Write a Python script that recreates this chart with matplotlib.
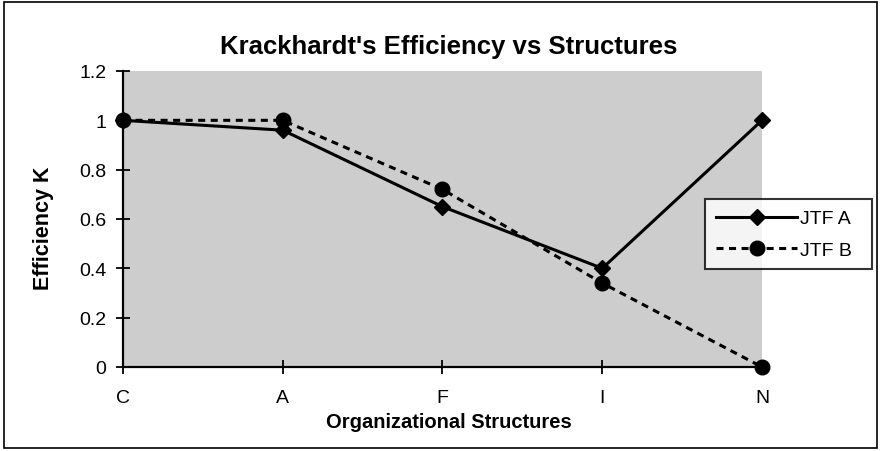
import matplotlib
matplotlib.use("Agg")
import matplotlib.pyplot as plt
from matplotlib.patches import Rectangle

categories = ["C", "A", "F", "I", "N"]
jtf_a = [1.0, 0.96, 0.65, 0.40, 1.0]
jtf_b = [1.0, 1.0, 0.72, 0.34, 0.0]
yticks = [0, 0.2, 0.4, 0.6, 0.8, 1.0, 1.2]
ytick_labels = ["0", "0.2", "0.4", "0.6", "0.8", "1", "1.2"]

plt.rcParams['font.family'] = ['Liberation Sans', 'DejaVu Sans']

W, H = 881, 452
fig = plt.figure(figsize=(W / 100, H / 100), dpi=100)
fig.patches.append(Rectangle((0.004, 0.006), 0.992, 0.988, transform=fig.transFigure,
                             fill=False, edgecolor='black', linewidth=1.2))
ax = fig.add_axes([123 / W, 1 - 368 / H, (762 - 123) / W, (368 - 72) / H])
ax.set_facecolor('#cdcdcd')

x = list(range(len(categories)))
ax.plot(x, jtf_a, color='black', linewidth=2.2, marker='D', markersize=8.5,
        label='JTF A', clip_on=False, zorder=3)
ax.plot(x, jtf_b, color='black', linewidth=2.2, linestyle=(0, (2.3, 1.8)), marker='o',
        markersize=10.5, label='JTF B', clip_on=False, zorder=3)

ax.set_xlim(0, 4)
ax.set_ylim(0, 1.2)
ax.set_xticks(x)
ax.set_xticklabels(categories)
ax.set_yticks(yticks)
ax.set_yticklabels(ytick_labels)
for s in ['top', 'right']:
    ax.spines[s].set_visible(False)
for s in ['left', 'bottom']:
    ax.spines[s].set_linewidth(1.6)
ax.tick_params(axis='both', direction='inout', length=10, width=1.3, labelsize=14)
ax.tick_params(axis='y', pad=7)
ax.tick_params(axis='x', pad=11)

fig.text(449 / W, 1 - 47 / H, "Krackhardt's Efficiency vs Structures",
         fontsize=18.5, fontweight='bold', ha='center', va='center')
fig.text(449 / W, 1 - 423 / H, "Organizational Structures",
         fontsize=14.5, fontweight='bold', ha='center', va='center')
fig.text(43 / W, 1 - 228 / H, "Efficiency K", fontsize=15.5, fontweight='bold',
         ha='center', va='center', rotation=90)

leg = fig.legend(loc='upper left', bbox_to_anchor=(705 / W, 1 - 200 / H, 167 / W, 0.0),
                 mode='expand', fontsize=14, frameon=True, fancybox=False,
                 edgecolor='black', handlelength=4.2, handletextpad=0.15,
                 borderaxespad=0, borderpad=0.55, labelspacing=0.7)
leg.get_frame().set_linewidth(1.5)

fig.savefig("out.png", dpi=100)
